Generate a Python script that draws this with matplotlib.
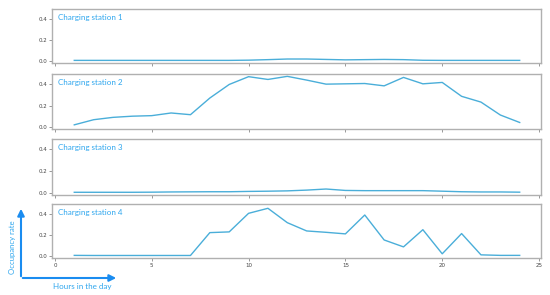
import matplotlib
matplotlib.use("Agg")
import matplotlib.pyplot as plt
from matplotlib.patches import FancyArrowPatch

hours = list(range(1, 25))
station1 = [0.005, 0.005, 0.005, 0.005, 0.005, 0.005, 0.005, 0.005, 0.005, 0.007, 0.012,
            0.018, 0.018, 0.014, 0.010, 0.012, 0.014, 0.012, 0.006, 0.005, 0.005, 0.005, 0.005, 0.005]
station2 = [0.019, 0.067, 0.089, 0.100, 0.105, 0.130, 0.114, 0.270, 0.397, 0.470, 0.444,
            0.473, 0.438, 0.400, 0.403, 0.406, 0.384, 0.463, 0.403, 0.416, 0.286, 0.232, 0.111, 0.041]
station3 = [0.005, 0.005, 0.005, 0.005, 0.006, 0.008, 0.009, 0.010, 0.010, 0.013, 0.015,
            0.018, 0.025, 0.035, 0.022, 0.020, 0.020, 0.020, 0.020, 0.015, 0.010, 0.008, 0.008, 0.006]
station4 = [0.005, 0.004, 0.004, 0.004, 0.004, 0.004, 0.004, 0.222, 0.229, 0.406, 0.454,
            0.317, 0.238, 0.225, 0.210, 0.390, 0.152, 0.086, 0.250, 0.020, 0.213, 0.010, 0.005, 0.005]
series = [station1, station2, station3, station4]
titles = ["Charging station 1", "Charging station 2", "Charging station 3", "Charging station 4"]
xticks = [0, 5, 10, 15, 20, 25]
yticks = [0.0, 0.2, 0.4]

line_color = "#4aaed9"
text_color = "#2ea6ee"
arrow_color = "#1a8cf0"
spine_color = "#b0b0b0"

W, H = 550, 295
fig = plt.figure(figsize=(W / 100, H / 100), dpi=100)

tops = [9, 74, 139, 204]
bottoms = [63, 129, 195, 258]
left, right = 52, 541

for i, (vals, title) in enumerate(zip(series, titles)):
    ax = fig.add_axes([left / W, 1 - bottoms[i] / H, (right - left) / W, (bottoms[i] - tops[i]) / H])
    ax.plot(hours, vals, color=line_color, lw=1.0)
    ax.set_xlim(-0.15, 25.1)
    ax.set_ylim(-0.02, 0.495)
    ax.set_xticks(xticks)
    ax.set_yticks(yticks)
    ax.set_yticklabels([f"{v:.1f}" for v in yticks])
    if i < 3:
        ax.set_xticklabels([])
    ax.tick_params(labelsize=4, length=2, width=0.6, color="#888888", labelcolor="#444444", pad=1.5)
    for s in ax.spines.values():
        s.set_color(spine_color)
        s.set_linewidth(1.0)
    ax.text(0.012, 0.84, title, transform=ax.transAxes, color=text_color,
            fontsize=5.8, family="Lato", ha="left", va="center")

arr_kw = dict(arrowstyle="-|>,head_length=4,head_width=2", color=arrow_color, lw=1.5,
              mutation_scale=1)
fig.add_artist(FancyArrowPatch((21 / W, 1 - 279 / H), (21 / W, 1 - 206 / H),
                               transform=fig.transFigure, **arr_kw))
fig.add_artist(FancyArrowPatch((20 / W, 1 - 278 / H), (119 / W, 1 - 278 / H),
                               transform=fig.transFigure, **arr_kw))
fig.text(12 / W, 1 - 247 / H, "Occupancy rate", rotation=90, color=text_color,
         fontsize=5.6, family="Lato", ha="center", va="center")
fig.text(82 / W, 1 - 286 / H, "Hours in the day", color=text_color,
         fontsize=5.8, family="Lato", ha="center", va="center")

fig.savefig("out.png", dpi=100)
